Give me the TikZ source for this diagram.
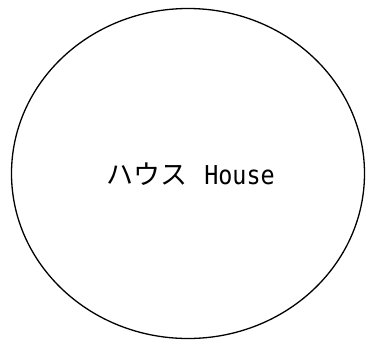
\documentclass[tikz,border=0pt]{standalone}
\usepackage{fontspec}
\usetikzlibrary{shapes.geometric}
\newfontfamily\jpfont{Noto Sans CJK JP}
\newfontfamily\latfont[FakeStretch=0.9]{DejaVu Sans Mono}
\tikzset{
  bubble/.style={draw=black, line width=1.3pt, ellipse, inner sep=0pt,
    minimum width=353pt, minimum height=330pt},
  caption/.style={inner sep=0pt}
}
\begin{document}
\begin{tikzpicture}[x=1pt,y=1pt]
\useasboundingbox (0,0) rectangle (366,-340);
\node[bubble] (house) at (188,-173.5) {};
\node[caption] (label) at (190.5,-174) {{\jpfont\fontsize{27}{30}\selectfont ハウス}\hspace{17pt}{\latfont\fontsize{26}{30}\selectfont House}};
\end{tikzpicture}
\end{document}
